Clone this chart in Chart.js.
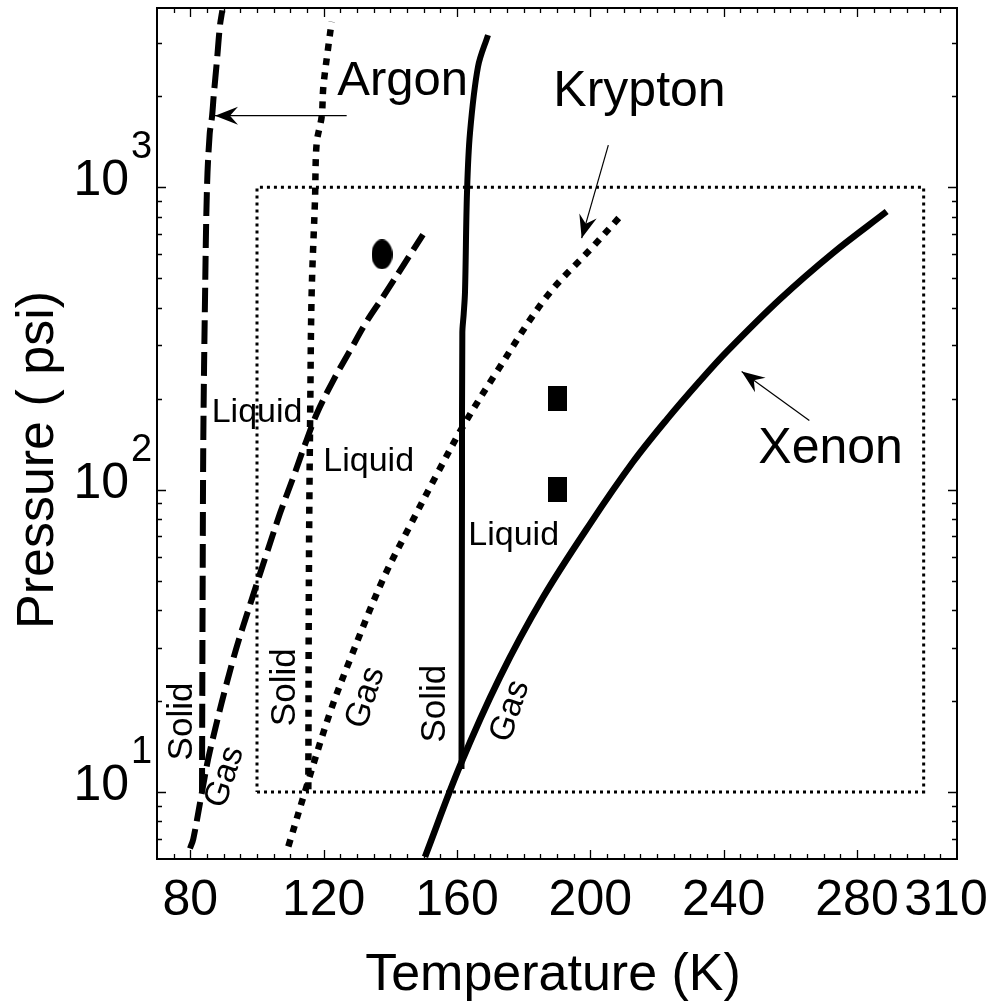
<!DOCTYPE html>
<html>
<head>
<meta charset="utf-8">
<script src="https://cdn.jsdelivr.net/npm/chart.js@4.4.1/dist/chart.umd.min.js"></script>
<style>
  html, body { margin: 0; padding: 0; background: #fff; }
  canvas { display: block; }
</style>
</head>
<body>
<canvas id="phaseChart" width="1007" height="1007"></canvas>
<script>
// temperatures in K, pressures in psi
const argonMeltT = [83.5, 83.7, 83.9, 84.4, 85.0, 85.8, 86.5, 87.0, 88.0, 88.9, 89.6];
const argonMeltP = [10, 50, 150, 425, 1000, 1500, 1710, 2000, 2640, 3440, 3850];
const argonVapT = [79.9, 80.9, 83.5, 85.9, 92.9, 98.9, 102.9, 106.9, 110.9, 114.9, 117.9, 122.9, 127.9, 132.9, 137.9, 149.8];
const argonVapP = [6.5, 7.0, 10, 13.7, 27.6, 45.0, 61.5, 83.5, 110, 146, 178, 230, 288, 360, 436, 697];

const kryptonMeltT = [115.4, 115.6, 116.0, 116.4, 117.4, 117.9, 119.4, 119.9, 121.4, 122.4];
const kryptonMeltP = [10.2, 60, 200, 448, 910, 1400, 1714, 2150, 2925, 3530];
const kryptonVapT = [109.4, 114.9, 121.9, 127.9, 137.8, 145.9, 153.9, 161.8, 171.9, 186.9, 200.8, 208.9];
const kryptonVapP = [6.6, 10.45, 18.3, 27.4, 50.5, 76, 112, 162, 245, 435, 637, 800];

const xenonMeltT = [161.35, 161.5, 161.6, 162.0, 162.4, 163.0, 163.9, 166.3, 169.3];
const xenonMeltP = [11.9, 100, 330, 380, 450, 960, 1515, 2506, 3190];
const xenonVapT = [150.4, 160.9, 172.9, 185.8, 199.9, 212.8, 223.0, 232.9, 240.9, 256.9, 272.8, 288.9];
const xenonVapP = [6.1, 12.2, 24.0, 44.0, 77, 123.5, 171, 229, 286, 427, 607, 832];

// operating window (dotted box) and test points
const boxT = [100, 300, 300, 100, 100];
const boxP = [10, 10, 1000, 1000, 10];
const ovalT = [137.5];
const ovalP = [600];
const squareT = [190, 190];
const squareP = [200, 100];

const xTickLabels = [80, 120, 160, 200, 240, 280, 310];
const yTickExponents = [1, 2, 3];

const FONT = "'Liberation Sans', Arial, sans-serif";

// text placed in data coordinates
const notes = [
  { text: "Argon", x: 124.1, y: 2023, size: 49 },
  { text: "Krypton", x: 188.9, y: 1858, size: 50 },
  { text: "Xenon", x: 250.4, y: 122.5, size: 50 },
  { text: "Liquid", x: 86.4, y: 168, size: 34 },
  { text: "Liquid", x: 119.9, y: 115, size: 34 },
  { text: "Liquid", x: 163.4, y: 65.8, size: 34 },
  { text: "Solid", x: 80.4, y: 17.1, size: 35, rot: -90 },
  { text: "Solid", x: 111.4, y: 22.2, size: 35, rot: -90 },
  { text: "Solid", x: 156.4, y: 19.6, size: 35, rot: -90 },
  { text: "Gas", x: 90.4, y: 11.2, size: 34, rot: -72, mid: true },
  { text: "Gas", x: 132.6, y: 20.5, size: 34, rot: -72, mid: true },
  { text: "Gas", x: 176.0, y: 18.5, size: 34, rot: -72, mid: true }
];

const arrows = [
  { from: [126.9, 1726], to: [87.4, 1726] },
  { from: [205.4, 1380], to: [197.4, 679] },
  { from: [265.7, 169.4], to: [245.4, 246] }
];

function pts(xs, ys) {
  return xs.map((x, i) => ({ x: x, y: ys[i] }));
}

function markerCanvas(w, h, oval) {
  const c = document.createElement("canvas");
  c.width = w;
  c.height = h;
  const g = c.getContext("2d");
  g.fillStyle = "#000";
  if (oval) {
    g.beginPath();
    g.ellipse(w / 2, h / 2, w / 2, h / 2, 0, 0, Math.PI * 2);
    g.fill();
  } else {
    g.fillRect(0, 0, w, h);
  }
  return c;
}

function curve(xs, ys, width, dash) {
  return {
    data: pts(xs, ys),
    showLine: true,
    borderColor: "#000",
    borderWidth: width,
    borderDash: dash,
    borderJoinStyle: "round",
    pointRadius: 0,
    fill: false,
    tension: 0.35
  };
}

function drawArrow(ctx, x1, y1, x2, y2) {
  ctx.lineWidth = 1.2;
  ctx.beginPath();
  ctx.moveTo(x1, y1);
  ctx.lineTo(x2, y2);
  ctx.stroke();
  const ang = Math.atan2(y2 - y1, x2 - x1);
  ctx.save();
  ctx.translate(x2, y2);
  ctx.rotate(ang);
  ctx.beginPath();
  ctx.moveTo(0, 0);
  ctx.lineTo(-23, -9);
  ctx.lineTo(-15, 0);
  ctx.lineTo(-23, 9);
  ctx.closePath();
  ctx.fill();
  ctx.restore();
}

const decor = {
  id: "decor",
  afterDatasetsDraw(chart) {
    const ctx = chart.ctx;
    const a = chart.chartArea;
    const xs = chart.scales.x;
    const ys = chart.scales.y;
    ctx.save();
    ctx.strokeStyle = "#000";
    ctx.fillStyle = "#000";

    // frame
    ctx.lineWidth = 2;
    ctx.strokeRect(a.left, a.top, a.right - a.left, a.bottom - a.top);

    // inward ticks, x
    ctx.lineWidth = 1.3;
    ctx.beginPath();
    for (let v = 75; v < 310; v += 5) {
      const px = Math.round(xs.getPixelForValue(v)) + 0.5;
      const len = (v % 40 === 0) ? 9 : 5;
      ctx.moveTo(px, a.bottom);
      ctx.lineTo(px, a.bottom - len);
      ctx.moveTo(px, a.top);
      ctx.lineTo(px, a.top + len);
    }
    // inward ticks, y (log)
    for (let e = 0; e <= 3; e++) {
      for (let m = 1; m <= 9; m++) {
        const v = m * Math.pow(10, e);
        if (v <= ys.min || v >= ys.max) continue;
        const py = Math.round(ys.getPixelForValue(v)) + 0.5;
        const len = m === 1 ? 9 : 5;
        ctx.moveTo(a.left, py);
        ctx.lineTo(a.left + len, py);
        ctx.moveTo(a.right, py);
        ctx.lineTo(a.right - len, py);
      }
    }
    ctx.stroke();

    // x tick labels
    ctx.font = "50px " + FONT;
    ctx.textBaseline = "alphabetic";
    ctx.textAlign = "center";
    xTickLabels.forEach(v => {
      let px = xs.getPixelForValue(v);
      if (v === 310) px -= 11;
      ctx.fillText(String(v), px, 915);
    });

    // y tick labels 10^n
    yTickExponents.forEach(n => {
      const py = ys.getPixelForValue(Math.pow(10, n));
      ctx.font = "50px " + FONT;
      ctx.textAlign = "right";
      ctx.fillText("10", 129, py + 8);
      ctx.font = "38px " + FONT;
      ctx.textAlign = "left";
      ctx.fillText(String(n), 131, py - 29);
    });

    // axis titles
    ctx.font = "52px " + FONT;
    ctx.textAlign = "center";
    ctx.fillText("Temperature (K)", 553, 990);
    ctx.save();
    ctx.translate(53, 460);
    ctx.rotate(-Math.PI / 2);
    ctx.fillText("Pressure ( psi)", 0, 0);
    ctx.restore();

    // annotations
    notes.forEach(n => {
      const px = xs.getPixelForValue(n.x);
      const py = ys.getPixelForValue(n.y);
      ctx.font = n.size + "px " + FONT;
      ctx.save();
      ctx.translate(px, py);
      if (n.rot) {
        ctx.rotate(n.rot * Math.PI / 180);
        ctx.textAlign = "center";
        ctx.textBaseline = n.mid ? "middle" : "alphabetic";
      } else {
        ctx.textAlign = "left";
        ctx.textBaseline = "alphabetic";
      }
      ctx.fillText(n.text, 0, 0);
      ctx.restore();
    });

    arrows.forEach(ar => {
      drawArrow(ctx,
        xs.getPixelForValue(ar.from[0]), ys.getPixelForValue(ar.from[1]),
        xs.getPixelForValue(ar.to[0]), ys.getPixelForValue(ar.to[1]));
    });
    ctx.restore();
  }
};

const boxSet = {
  data: pts(boxT, boxP),
  showLine: true,
  borderColor: "#000",
  borderWidth: 3,
  borderDash: [3, 4],
  pointRadius: 0,
  fill: false,
  tension: 0
};

new Chart(document.getElementById("phaseChart"), {
  type: "scatter",
  data: {
    datasets: [
      boxSet,
      curve(argonMeltT, argonMeltP, 6, [24, 8]),
      curve(argonVapT, argonVapP, 6, [20, 8]),
      curve(kryptonMeltT, kryptonMeltP, 6.5, [7, 7.5]),
      curve(kryptonVapT, kryptonVapP, 6.5, [7, 7.5]),
      curve(xenonMeltT, xenonMeltP, 6, []),
      curve(xenonVapT, xenonVapP, 6.5, []),
      { data: pts(ovalT, ovalP), pointStyle: markerCanvas(21, 30, true), showLine: false },
      { data: pts(squareT, squareP), pointStyle: markerCanvas(19, 25, false), showLine: false }
    ]
  },
  options: {
    responsive: false,
    animation: false,
    devicePixelRatio: 1,
    layout: { padding: { left: 157, top: 8, right: 50, bottom: 148 } },
    plugins: { legend: { display: false }, tooltip: { enabled: false } },
    scales: {
      x: { type: "linear", min: 70, max: 310, display: false },
      y: { type: "logarithmic", min: 6, max: 3920, display: false }
    }
  },
  plugins: [decor]
});
</script>
</body>
</html>
